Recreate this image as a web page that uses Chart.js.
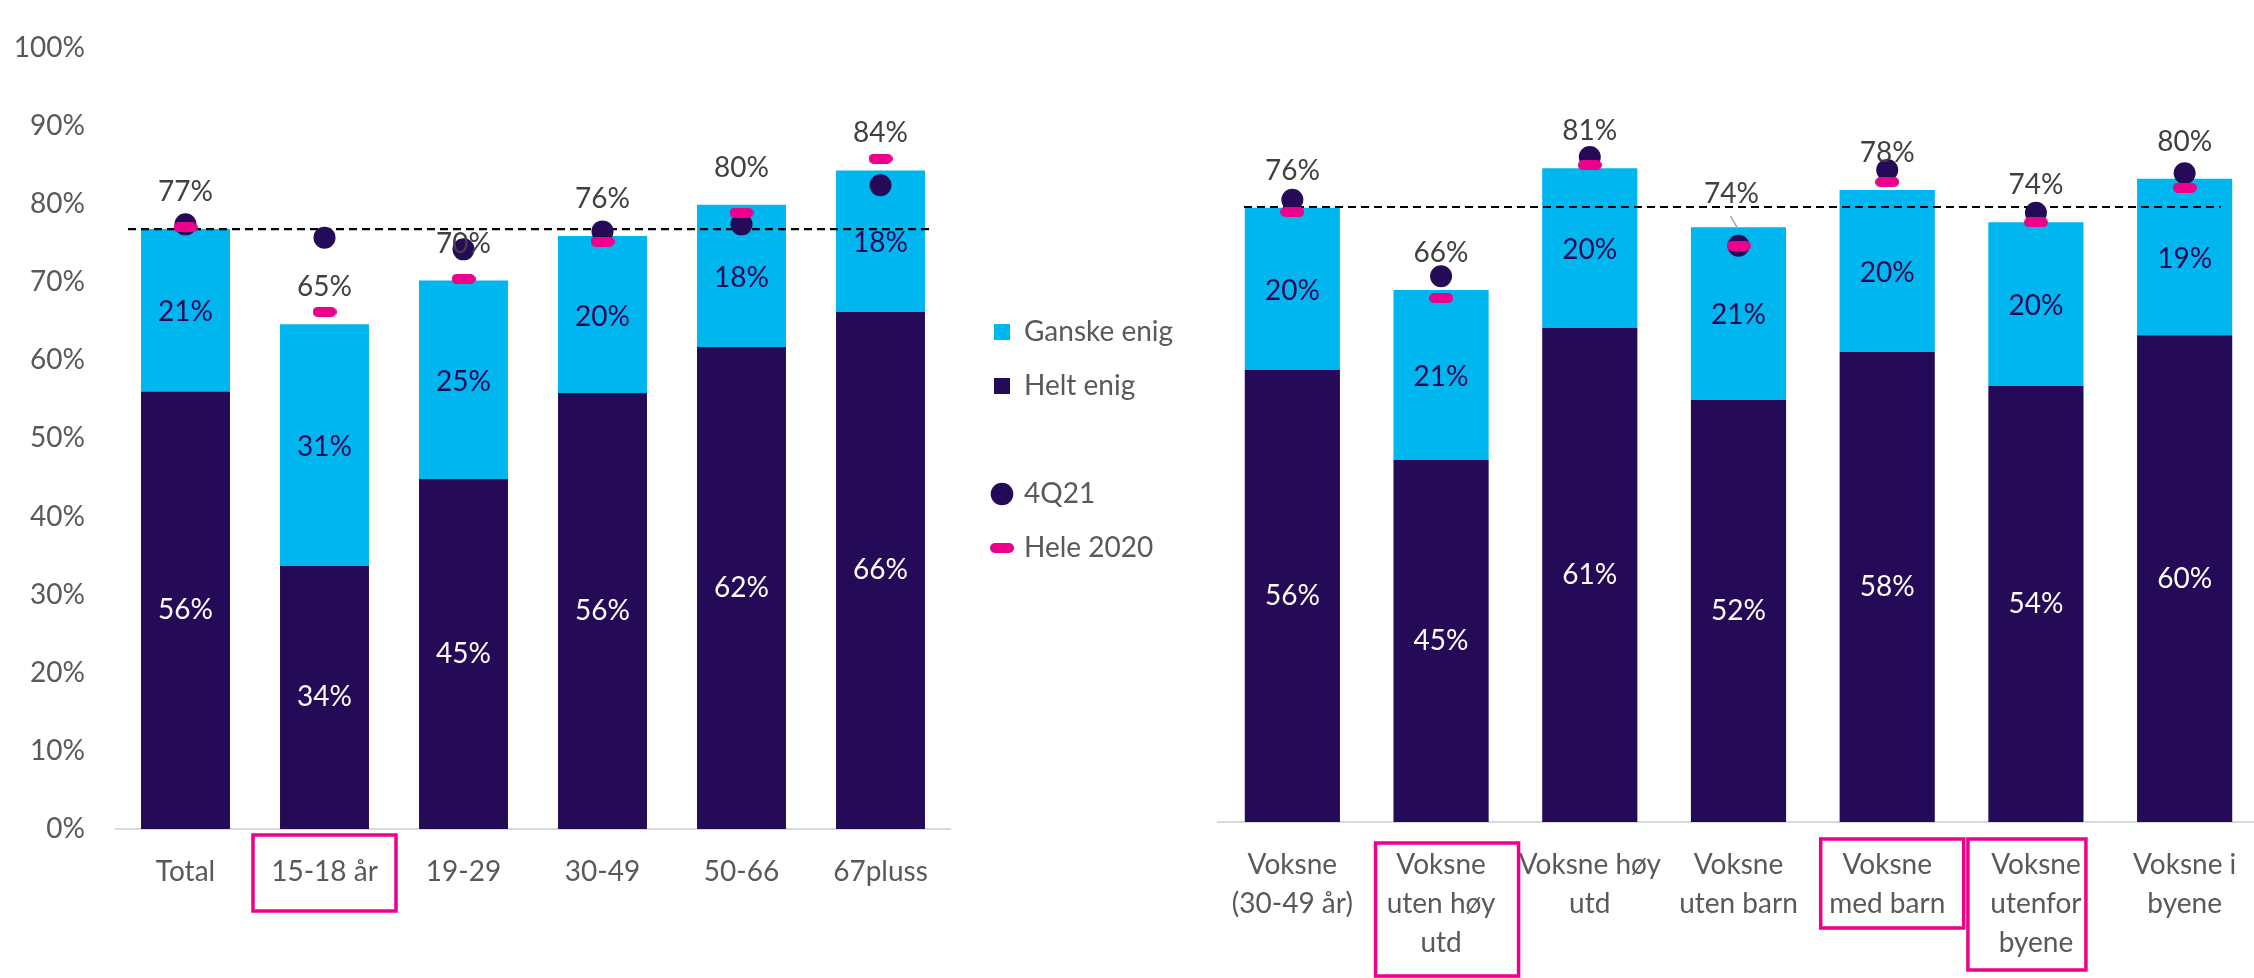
<!DOCTYPE html>
<html><head><meta charset="utf-8">
<script src="https://cdn.jsdelivr.net/npm/chart.js@4.4.1/dist/chart.umd.min.js"></script>
<style>
html,body{margin:0;padding:0;background:#fff;overflow:hidden;width:2254px;height:978px;}
#wrap{position:relative;width:2254px;height:978px;overflow:hidden;background:#fff;}
#c1{position:absolute;left:0;top:0;}
#c2{position:absolute;left:1200px;top:0;}
</style></head><body>
<div id="wrap">
<canvas id="c1" width="1200" height="978" style="width:1200px;height:978px"></canvas>
<canvas id="c2" width="1070" height="978" style="width:1070px;height:978px"></canvas>
</div>
<script>
// ---------- DATA ----------
const leftCategories = ['Total', '15-18 år', '19-29', '30-49', '50-66', '67pluss'];
const leftHeltEnig   = [56.0, 33.7, 44.8, 55.8, 61.7, 66.2];
const leftGanskeEnig = [20.8, 30.9, 25.4, 20.1, 18.2, 18.1];
const left4Q21       = [77.4, 75.7, 74.2, 76.5, 77.4, 82.4];
const leftHele2020   = [77.0, 66.2, 70.4, 75.2, 78.9, 85.8];
const leftAverage    = 76.8;
const leftHighlighted = [1];

const rightCategories = [
  ['Voksne', '(30-49 år)'],
  ['Voksne', 'uten høy', 'utd'],
  ['Voksne høy', 'utd'],
  ['Voksne', 'uten barn'],
  ['Voksne', 'med barn'],
  ['Voksne', 'utenfor', 'byene'],
  ['Voksne i', 'byene']
];
const rightHeltEnig   = [56.1, 44.9, 61.3, 52.4, 58.3, 54.1, 60.4];
const rightGanskeEnig = [20.1, 21.1, 19.8, 21.4, 20.1, 20.3, 19.4];
const right4Q21       = [77.2, 67.7, 82.5, 71.5, 80.9, 75.6, 80.5];
const rightHele2020   = [75.7, 65.0, 81.5, 71.5, 79.4, 74.4, 78.7];
const rightAverage    = 76.3;
const rightHighlighted = [1, 4, 5];

const yTicks = [0, 10, 20, 30, 40, 50, 60, 70, 80, 90, 100];
const seriesNames = ['Helt enig', 'Ganske enig', '4Q21', 'Hele 2020'];

// ---------- STYLE ----------
const FONT = 'Lato, "Open Sans", sans-serif';
const DARK = '#250b57', CYAN = '#00b6ef', PINK = '#ec008c';
const GRAY = '#595959', LABEL = '#404040';

function makeDash() {
  const c = document.createElement('canvas');
  c.width = 24; c.height = 10;
  const x = c.getContext('2d');
  x.fillStyle = PINK;
  x.beginPath();
  x.moveTo(5, 0); x.lineTo(19, 0); x.arc(19, 5, 5, -Math.PI / 2, Math.PI / 2);
  x.lineTo(5, 10); x.arc(5, 5, 5, Math.PI / 2, Math.PI * 1.5);
  x.closePath(); x.fill();
  return c;
}
const dashImg = makeDash();

// ---------- PLUGINS ----------
const avgLine = {
  id: 'avgLine',
  afterDatasetDraw(chart, args, opts) {
    if (args.index !== 0) return;
    const ctx = chart.ctx, a = chart.chartArea;
    const y = chart.scales.y.getPixelForValue(opts.value);
    ctx.save();
    ctx.strokeStyle = '#000'; ctx.lineWidth = 2.2; ctx.setLineDash([8, 5]);
    ctx.beginPath(); ctx.moveTo(a.left + opts.insetL, y); ctx.lineTo(a.right - opts.insetR, y); ctx.stroke();
    ctx.restore();
  }
};

const barLabels = {
  id: 'barLabels',
  afterDatasetsDraw(chart, args, opts) {
    const ctx = chart.ctx;
    const mH = chart.getDatasetMeta(0), mG = chart.getDatasetMeta(1);
    const dH = chart.data.datasets[0].data, dG = chart.data.datasets[1].data;
    ctx.save();
    ctx.font = '28px ' + FONT; ctx.textAlign = 'center'; ctx.textBaseline = 'middle';
    mH.data.forEach((bar, i) => {
      ctx.fillStyle = '#ffffff';
      ctx.fillText(Math.round(dH[i]) + '%', bar.x, (bar.y + bar.base) / 2);
      const g = mG.data[i];
      ctx.fillStyle = DARK;
      ctx.fillText(Math.round(dG[i]) + '%', g.x, (g.y + g.base) / 2 + 2);
      let tx = g.x, ty = g.y - 37;
      const lead = (opts.leaders || []).find(l => l.index === i);
      if (lead) {
        tx += lead.dx; ty += lead.dy;
        ctx.strokeStyle = '#a6a6a6'; ctx.lineWidth = 1.5;
        ctx.beginPath(); ctx.moveTo(g.x - 8, g.y - 11); ctx.lineTo(g.x - 1, g.y + 1); ctx.stroke();
      }
      ctx.fillStyle = LABEL;
      ctx.fillText(Math.round(dH[i] + dG[i]) + '%', tx, ty);
    });
    ctx.restore();
  }
};

const labelBoxes = {
  id: 'labelBoxes',
  afterDraw(chart, args, opts) {
    const ctx = chart.ctx, xs = chart.scales.x;
    ctx.save();
    ctx.strokeStyle = PINK; ctx.lineWidth = 3.5;
    (opts.boxes || []).forEach(b => {
      if (!opts.indices.includes(b.index)) return;
      const cx = xs.getPixelForTick(b.index) + b.dx;
      ctx.strokeRect(cx - b.w / 2, xs.top + b.top, b.w, b.h);
    });
    ctx.restore();
  }
};

const legendPlace = {
  id: 'legendPlace',
  afterLayout(chart, args, opts) {
    const lg = chart.legend;
    if (!lg || !opts.enabled) return;
    lg.left = opts.left; lg.right = opts.right; lg.width = opts.right - opts.left;
    lg.top = opts.top; lg.bottom = opts.bottom; lg.height = opts.bottom - opts.top;
  }
};

function datasets(helt, ganske, q, h) {
  return [
    { type: 'bar', label: seriesNames[0], data: helt, backgroundColor: DARK, borderWidth: 0,
      stack: 'bars', order: 2, pointStyle: 'rect', barPercentage: 0.8, categoryPercentage: 0.8 },
    { type: 'bar', label: seriesNames[1], data: ganske, backgroundColor: CYAN, borderWidth: 0,
      stack: 'bars', order: 3, pointStyle: 'rect', barPercentage: 0.8, categoryPercentage: 0.8 },
    { type: 'line', label: seriesNames[2], data: q, showLine: false, pointStyle: 'circle',
      pointRadius: 11, pointHoverRadius: 11, backgroundColor: DARK, borderColor: DARK,
      pointBorderWidth: 0, borderWidth: 0, stack: 'q', order: 1 },
    { type: 'line', label: seriesNames[3], data: h, showLine: false, pointStyle: dashImg,
      pointRadius: 6, pointHoverRadius: 6, backgroundColor: PINK, borderColor: PINK,
      pointBorderWidth: 0, borderWidth: 0, stack: 'h', order: 0 }
  ];
}

function xScale(height) {
  return {
    stacked: true,
    grid: { display: false, drawTicks: false },
    border: { display: true, color: '#d9d9d9', width: 2 },
    ticks: { color: GRAY, font: { family: FONT, size: 28, lineHeight: 1.39 }, padding: 23.5,
             maxRotation: 0, minRotation: 0, autoSkip: false },
    afterFit: s => { s.height = height; }
  };
}

Chart.defaults.font.family = FONT;

// ---------- LEFT CHART ----------
new Chart(document.getElementById('c1'), {
  data: { labels: leftCategories, datasets: datasets(leftHeltEnig, leftGanskeEnig, left4Q21, leftHele2020) },
  options: {
    responsive: false, animation: false, events: [],
    layout: { padding: { top: 23, right: 150, bottom: 0, left: 0 } },
    scales: {
      x: xScale(149),
      y: {
        stacked: true, min: 0, max: 100,
        afterBuildTicks: s => { s.ticks = yTicks.map(v => ({ value: v })); },
        grid: { display: false, drawTicks: false }, border: { display: false },
        ticks: { color: GRAY, font: { family: FONT, size: 28 }, padding: 31, callback: v => v + '%' },
        afterFit: s => { s.width = 116; }
      }
    },
    plugins: {
      tooltip: { enabled: false },
      legend: {
        display: true, position: 'right', align: 'start', maxWidth: 100,
        labels: {
          usePointStyle: true, boxWidth: 16, boxHeight: 16, padding: 26, color: GRAY,
          font: { family: FONT, size: 28 },
          generateLabels: chart => {
            const items = Chart.defaults.plugins.legend.labels.generateLabels(chart);
            const by = n => items.find(it => it.text === n);
            const blank = { text: '', fillStyle: 'rgba(0,0,0,0)', strokeStyle: 'rgba(0,0,0,0)',
                            lineWidth: 0, pointStyle: 'rect', hidden: false, datasetIndex: -1 };
            return [by('Ganske enig'), by('Helt enig'), blank, by('4Q21'), by('Hele 2020')];
          }
        }
      },
      legendPlace: { enabled: true, left: 968, right: 1200, top: 292, bottom: 978 },
      avgLine: { value: leftAverage, insetL: 12, insetR: 16 },
      barLabels: { leaders: [] },
      labelBoxes: { indices: leftHighlighted, boxes: [ { index: 1, dx: 0, w: 143, top: 6, h: 76 } ] }
    }
  },
  plugins: [avgLine, barLabels, labelBoxes, legendPlace]
});

// ---------- RIGHT CHART ----------
new Chart(document.getElementById('c2'), {
  data: { labels: rightCategories, datasets: datasets(rightHeltEnig, rightGanskeEnig, right4Q21, rightHele2020) },
  options: {
    responsive: false, animation: false, events: [],
    layout: { padding: { top: 16, right: 0, bottom: 0, left: 18 } },
    scales: {
      x: xScale(156),
      y: { stacked: true, min: 0, max: 100, display: false }
    },
    plugins: {
      tooltip: { enabled: false },
      legend: { display: false },
      legendPlace: { enabled: false },
      avgLine: { value: rightAverage, insetL: 26, insetR: 38 },
      barLabels: { leaders: [ { index: 3, dx: -7, dy: 4 } ] },
      labelBoxes: { indices: rightHighlighted, boxes: [
        { index: 1, dx: 6, w: 143, top: 21, h: 133 },
        { index: 4, dx: 5, w: 143, top: 17, h: 89 },
        { index: 5, dx: -9, w: 118, top: 17, h: 131 }
      ] }
    }
  },
  plugins: [avgLine, barLabels, labelBoxes, legendPlace]
});
</script>
</body></html>
